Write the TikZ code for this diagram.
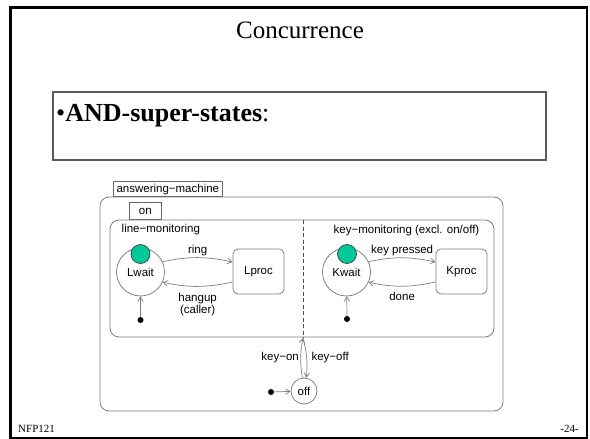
\documentclass[tikz,border=0pt]{standalone}
\usepackage{fontspec}
\setmainfont{Liberation Serif}
\newfontfamily\diagfont{Liberation Sans}
\usetikzlibrary{arrows.meta,calc}
\definecolor{lgray}{HTML}{7F7F7F}
\definecolor{tgreen}{HTML}{00C896}
\begin{document}
\begin{tikzpicture}[x=1pt,y=-1pt,
  dfont/.style={font=\diagfont\fontsize{11.5}{12.5}\selectfont},
  gline/.style={draw=lgray, line width=0.8pt},
  stcirc/.style={circle, gline, minimum size=48pt, inner sep=0pt, dfont},
  strect/.style={rectangle, rounded corners=5pt, gline, minimum width=51pt, minimum height=45pt, dfont},
  token/.style={circle, fill=tgreen, draw=black!75, line width=0.7pt, minimum size=19pt, inner sep=0pt},
  initdot/.style={circle, fill=black, minimum size=6pt, inner sep=0pt},
  trans/.style={draw=lgray, line width=0.7pt, -{Straight Barb[length=4.5pt,width=5.5pt]}},
  tabbox/.style={rectangle, draw=black!60, line width=0.7pt, dfont, inner sep=0pt},
  lbl/.style={dfont, inner sep=1.5pt, text=black},
]
\useasboundingbox (0,0) rectangle (590,439);
% slide frame
\draw[black, line width=2.5pt] (10.5,7.5) rectangle (587,438);
\node[anchor=base, font=\fontsize{25}{29}\selectfont] (title) at (300,38) {Concurrence};
\draw[draw=black!65, line width=1.2pt] (53,92) rectangle (546,160);
\node[anchor=base west, inner sep=0pt, font=\fontsize{26}{30}\selectfont] (sub) at (56,121) {•\textbf{AND-super-states}:};
% footer
\node[anchor=base west, inner sep=0pt, font=\fontsize{11}{13}\selectfont] (nfp) at (18,432) {NFP121};
\node[anchor=base east, inner sep=0pt, font=\fontsize{11}{13}\selectfont] (pg) at (579,432) {-24-};
% super states
\draw[gline, rounded corners=9pt] (100,197) rectangle (503,411);
\node[tabbox, anchor=south west, minimum width=109pt, minimum height=15pt] (amtab) at (113,197) {answering−machine};
\node[tabbox, anchor=south west, minimum width=32pt, minimum height=17pt] (ontab) at (129,220) {on};
\draw[gline, rounded corners=9pt] (110,220) rectangle (494,337);
\coordinate (dtop) at (303,220);
\coordinate (djoin) at (303,338);
\draw[draw=black!70, line width=0.7pt, dash pattern=on 4pt off 2.5pt] (dtop) -- (djoin);
\node[lbl, anchor=west] (lmlbl) at (120,230) {line−monitoring};
\node[lbl, anchor=east] (kmlbl) at (481,231) {key−monitoring (excl. on/off)};
% line monitoring
\node[stcirc] (Lwait) at (140.5,272) {Lwait};
\node[token] (Ltok) at (140.5,254) {};
\node[strect] (Lproc) at (258.5,271.5) {Lproc};
\node[initdot] (Linit) at (140.5,320) {};
\draw[trans] (Lwait.25) to[bend left=12] node[lbl, above] {ring} (Lproc.160);
\draw[trans] (Lproc.202) to[bend left=12] node[lbl, below, align=center, yshift=-5pt] {hangup\\[-1pt](caller)} (Lwait.-25);
\draw[trans] (Linit) -- (Lwait);
% key monitoring
\node[stcirc] (Kwait) at (346.5,272) {Kwait};
\node[token] (Ktok) at (347,254) {};
\node[strect] (Kproc) at (461.5,271.5) {Kproc};
\node[initdot] (Kinit) at (347,319) {};
\draw[trans] (Kwait.25) to[bend left=12] node[lbl, above] {key pressed} (Kproc.160);
\draw[trans] (Kproc.202) to[bend left=12] node[lbl, below, yshift=-4pt] {done} (Kwait.-25);
\draw[trans] (Kinit) -- (Kwait);
% off
\node[circle, gline, minimum size=26pt, inner sep=0pt, dfont] (off) at (304,391) {off};
\node[initdot] (Oinit) at (271,392) {};
\draw[trans] (Oinit) -- (off);
\draw[trans] (off.97) to[bend left=10] node[lbl, left] {key−on} (djoin);
\draw[trans] (djoin) to[bend left=10] node[lbl, right, xshift=3pt] {key−off} (off.80);
\end{tikzpicture}
\end{document}
